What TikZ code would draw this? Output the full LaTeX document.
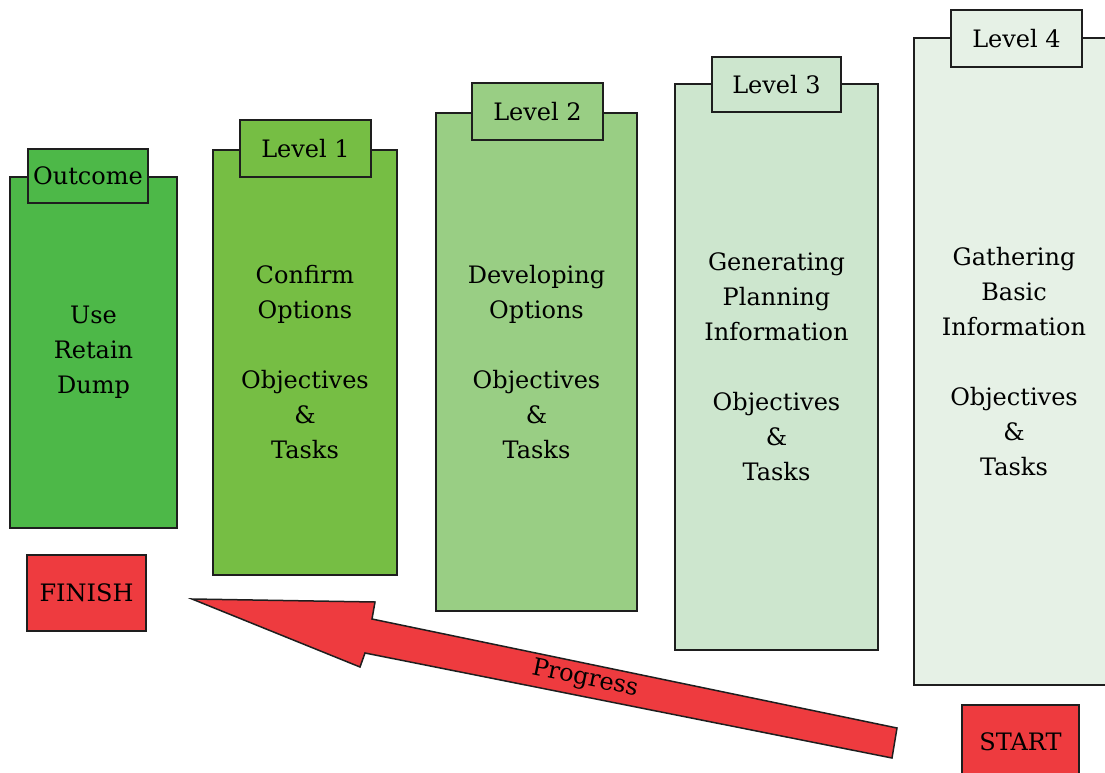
\documentclass[tikz,border=0pt]{standalone}
\usepackage{fontspec}
\setmainfont{DejaVu Serif}
\definecolor{edge}{HTML}{1E1E1E}
\definecolor{gOut}{HTML}{4DB848}
\definecolor{gOne}{HTML}{76BE44}
\definecolor{gTwo}{HTML}{99CE84}
\definecolor{gThree}{HTML}{CDE6CE}
\definecolor{gFour}{HTML}{E6F1E6}
\definecolor{signred}{HTML}{EE3B3F}
\tikzset{
  box/.style={draw=edge, line width=2pt, rectangle, inner sep=0pt,
    align=center, font=\fontsize{24}{35}\selectfont},
  column/.style={box},
  tab/.style={box},
  sign/.style={box, fill=signred},
  arrowbody/.style={draw=edge, line width=1.5pt, fill=signred, line join=miter}
}
\begin{document}
\begin{tikzpicture}[x=1pt, y=-1pt]
\useasboundingbox (0,0) rectangle (1105,773);
\clip (0,0) rectangle (1105,773);

% columns
\node[column, fill=gOut, minimum width=167pt, minimum height=351pt] (c0) at (93.5,352.5)
  {Use\\Retain\\Dump};
\node[column, fill=gOne, minimum width=184pt, minimum height=425pt] (c1) at (305,362)
  {Confirm\\Options\\[35pt]Objectives\\\&\\Tasks};
\node[column, fill=gTwo, minimum width=201pt, minimum height=498pt] (c2) at (536.5,362)
  {Developing\\Options\\[35pt]Objectives\\\&\\Tasks};
\node[column, fill=gThree, minimum width=203pt, minimum height=566pt] (c3) at (776.5,367)
  {Generating\\Planning\\Information\\[35pt]Objectives\\\&\\Tasks};
\node[column, fill=gFour, minimum width=230pt, minimum height=647pt] (c4) at (1029,361.5) {};
\node[align=center, font=\fontsize{24}{35}\selectfont] (t4) at (1014,362)
  {Gathering\\Basic\\Information\\[35pt]Objectives\\\&\\Tasks};

% tabs
\node[tab, fill=gOut, minimum width=120pt, minimum height=54pt] (h0) at (88,176) {Outcome};
\node[tab, fill=gOne, minimum width=131pt, minimum height=56pt] (h1) at (305.5,148.5) {Level 1};
\node[tab, fill=gTwo, minimum width=131pt, minimum height=57pt] (h2) at (537.5,111.5) {Level 2};
\node[tab, fill=gThree, minimum width=129pt, minimum height=55pt] (h3) at (776.5,84.5) {Level 3};
\node[tab, fill=gFour, minimum width=131pt, minimum height=57pt] (h4) at (1016.5,38.5) {Level 4};

% finish and start signs
\node[sign, minimum width=119pt, minimum height=76pt] (finish) at (86.5,593) {FINISH};
\node[sign, minimum width=117pt, minimum height=74pt] (start) at (1020.5,742) {START};

% progress arrow
\coordinate (tip) at (192,599);
\coordinate (barbA) at (375,602);
\coordinate (neckA) at (372,619);
\coordinate (tailA) at (897,728);
\coordinate (tailB) at (892,758);
\coordinate (neckB) at (365,653);
\coordinate (barbB) at (360,667);
\draw[arrowbody] (tip) -- (barbA) -- (neckA) -- (tailA) -- (tailB) -- (neckB) -- (barbB) -- cycle;
\node[rotate=-11.7, font=\fontsize{24}{28}\selectfont] (progress) at (585,679) {Progress};
\end{tikzpicture}
\end{document}
